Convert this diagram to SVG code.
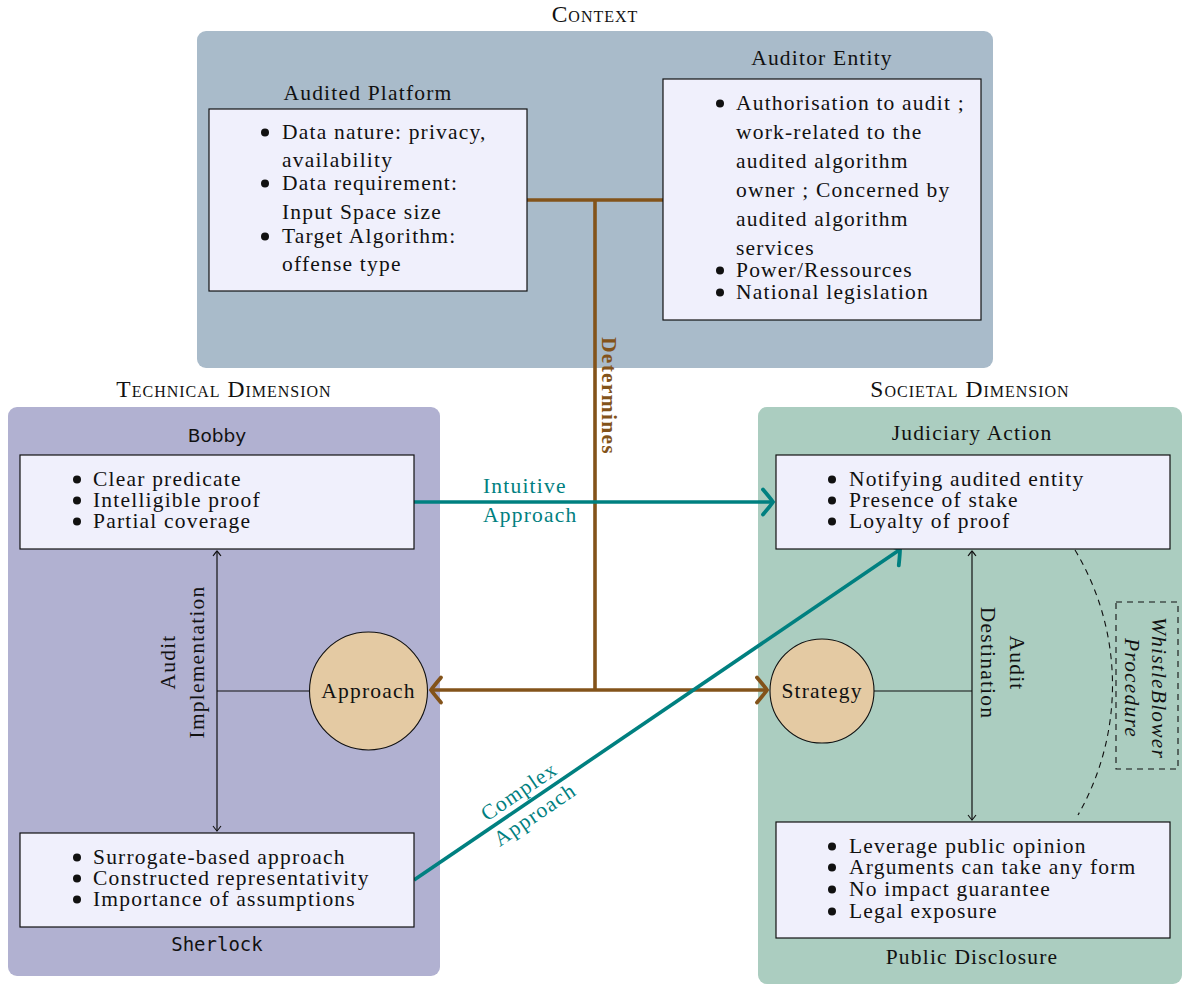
<svg xmlns="http://www.w3.org/2000/svg" width="1183" height="985" viewBox="0 0 1183 985">
<style>
  .t { font-family: "Liberation Serif", serif; font-size: 21.5px; letter-spacing: 1.2px; fill: #111; }
  .sc { font-family: "Liberation Serif", serif; font-size: 23.5px; font-variant: small-caps; letter-spacing: 1px; fill: #111; text-anchor: middle; }
  .mid { text-anchor: middle; }
  .dot { fill: #111; }
  .box { fill: #f0f0fc; stroke: #111; stroke-width: 1.2; }
  .node { fill: #e4caa3; stroke: #111; stroke-width: 1.1; }
  .thin { stroke: #111; stroke-width: 1.2; fill: none; }
  .brown { stroke: #83531a; stroke-width: 3.6; fill: none; }
  .teal { stroke: #008080; stroke-width: 3.6; fill: none; }
  .dash { stroke: #111; stroke-width: 1.1; fill: none; stroke-dasharray: 6 5; }
  .tealtxt { fill: #008080; }
</style>
<defs>
  <marker id="barbBrown" markerUnits="userSpaceOnUse" viewBox="-16 -16 32 32" markerWidth="32" markerHeight="32" refX="0" refY="0" orient="auto-start-reverse">
    <path d="M -10,-12.5 Q -2,-3 0,0 Q -2,3 -10,12.5" fill="none" stroke="#83531a" stroke-width="3.8" stroke-linecap="round"/>
  </marker>
  <marker id="barbTeal" markerUnits="userSpaceOnUse" viewBox="-16 -16 32 32" markerWidth="32" markerHeight="32" refX="0" refY="0" orient="auto-start-reverse">
    <path d="M -10,-12.5 Q -2,-3 0,0 Q -2,3 -10,12.5" fill="none" stroke="#008080" stroke-width="3.8" stroke-linecap="round"/>
  </marker>
  <marker id="tip" markerUnits="userSpaceOnUse" viewBox="-8 -8 16 16" markerWidth="16" markerHeight="16" refX="0" refY="0" orient="auto-start-reverse">
    <path d="M -5,-4 Q -1,-1 0,0 Q -1,1 -5,4" fill="none" stroke="#111" stroke-width="1.1"/>
  </marker>
</defs>

<rect width="1183" height="985" fill="#ffffff"/>

<!-- Context container -->
<g id="context">
  <rect x="197" y="31" width="796" height="337" rx="9" fill="#a9bbca"/>
  <text class="sc" x="595" y="22">Context</text>
</g>

<!-- Technical container -->
<g id="technical-dimension">
  <rect x="8" y="407" width="432" height="569" rx="9" fill="#b1b1d1"/>
  <text class="sc" x="224" y="397">Technical Dimension</text>
</g>

<!-- Societal container -->
<g id="societal-dimension">
  <rect x="758" y="407" width="424" height="577" rx="9" fill="#abcdc0"/>
  <text class="sc" x="970" y="397">Societal Dimension</text>
</g>

<!-- Connectors -->
<g id="connectors">
  <path class="brown" d="M 527,200 H 663"/>
  <path class="brown" d="M 595,200 V 690"/>
  <path class="brown" d="M 595,690 H 431" marker-end="url(#barbBrown)"/>
  <path class="brown" d="M 595,690 H 767" marker-end="url(#barbBrown)"/>
  <text transform="translate(602,396) rotate(90)" class="mid" font-family="Liberation Serif, serif" font-size="21.5" font-weight="bold" letter-spacing="1.3" fill="#83531a">Determines</text>

  <path class="teal" d="M 414,502 H 773" marker-end="url(#barbTeal)"/>
  <text class="t tealtxt" x="483" y="493">Intuitive</text>
  <text class="t tealtxt" x="483" y="522">Approach</text>

  <path class="teal" d="M 414,880 L 900,549.5" marker-end="url(#barbTeal)"/>
  <g transform="translate(527,803) rotate(-34.2)">
    <text class="t tealtxt mid" x="0" y="-7">Complex</text>
    <text class="t tealtxt mid" x="0" y="21">Approach</text>
  </g>

  <path class="thin" d="M 217,551 V 831" marker-start="url(#tip)" marker-end="url(#tip)"/>
  <path class="thin" d="M 217,691 H 310"/>
  <text transform="translate(175,662) rotate(-90)" class="t mid">Audit</text>
  <text transform="translate(204,662) rotate(-90)" class="t mid">Implementation</text>

  <path class="thin" d="M 972,551 V 820" marker-start="url(#tip)" marker-end="url(#tip)"/>
  <path class="thin" d="M 874,691 H 972"/>
  <text transform="translate(1010,663) rotate(90)" class="t mid">Audit</text>
  <text transform="translate(981,663) rotate(90)" class="t mid">Destination</text>

  <path class="dash" d="M 1075,550 A 262 262 0 0 1 1078,815"/>
</g>

<!-- Audited Platform -->
<g id="audited-platform">
  <text class="t mid" x="368" y="100">Audited Platform</text>
  <rect class="box" x="209" y="109" width="318" height="182"/>
  <circle class="dot" cx="265" cy="132.5" r="4"/>
  <text class="t" x="282" y="139">Data nature: privacy,</text>
  <text class="t" x="282" y="167">availability</text>
  <circle class="dot" cx="265" cy="183.5" r="4"/>
  <text class="t" x="282" y="190">Data requirement:</text>
  <text class="t" x="282" y="219">Input Space size</text>
  <circle class="dot" cx="265" cy="236.5" r="4"/>
  <text class="t" x="282" y="243">Target Algorithm:</text>
  <text class="t" x="282" y="271">offense type</text>
</g>

<!-- Auditor Entity -->
<g id="auditor-entity">
  <text class="t mid" x="822" y="65">Auditor Entity</text>
  <rect class="box" x="663" y="79" width="318" height="241"/>
  <circle class="dot" cx="720" cy="103.5" r="4"/>
  <text class="t" x="736" y="110">Authorisation to audit ;</text>
  <text class="t" x="736" y="139">work-related to the</text>
  <text class="t" x="736" y="168">audited algorithm</text>
  <text class="t" x="736" y="197">owner ; Concerned by</text>
  <text class="t" x="736" y="226">audited algorithm</text>
  <text class="t" x="736" y="255">services</text>
  <circle class="dot" cx="720" cy="270.5" r="4"/>
  <text class="t" x="736" y="277">Power/Ressources</text>
  <circle class="dot" cx="720" cy="292.5" r="4"/>
  <text class="t" x="736" y="299">National legislation</text>
</g>

<!-- Bobby -->
<g id="bobby">
  <text x="217" y="442" text-anchor="middle" font-family="DejaVu Sans, sans-serif" font-size="18.5" fill="#111">Bobby</text>
  <rect class="box" x="20" y="455" width="394" height="94"/>
  <circle class="dot" cx="77" cy="479.5" r="4"/>
  <text class="t" x="93" y="486">Clear predicate</text>
  <circle class="dot" cx="77" cy="500.5" r="4"/>
  <text class="t" x="93" y="507">Intelligible proof</text>
  <circle class="dot" cx="77" cy="521.5" r="4"/>
  <text class="t" x="93" y="528">Partial coverage</text>
</g>

<!-- Sherlock -->
<g id="sherlock">
  <rect class="box" x="20" y="833" width="394" height="94"/>
  <circle class="dot" cx="77" cy="857.5" r="4"/>
  <text class="t" x="93" y="864">Surrogate-based approach</text>
  <circle class="dot" cx="77" cy="878.5" r="4"/>
  <text class="t" x="93" y="885">Constructed representativity</text>
  <circle class="dot" cx="77" cy="899.5" r="4"/>
  <text class="t" x="93" y="906">Importance of assumptions</text>
  <text x="217" y="951" text-anchor="middle" font-family="DejaVu Sans Mono, monospace" font-size="19" fill="#111">Sherlock</text>
</g>

<!-- Approach -->
<g id="approach">
  <circle class="node" cx="368.5" cy="691" r="59"/>
  <text class="t mid" x="368.5" y="698">Approach</text>
</g>

<!-- Judiciary Action -->
<g id="judiciary-action">
  <text class="t mid" x="972" y="440">Judiciary Action</text>
  <rect class="box" x="776" y="455" width="394" height="94"/>
  <circle class="dot" cx="832" cy="479.5" r="4"/>
  <text class="t" x="849" y="486">Notifying audited entity</text>
  <circle class="dot" cx="832" cy="500.5" r="4"/>
  <text class="t" x="849" y="507">Presence of stake</text>
  <circle class="dot" cx="832" cy="521.5" r="4"/>
  <text class="t" x="849" y="528">Loyalty of proof</text>
</g>

<!-- Public Disclosure -->
<g id="public-disclosure">
  <rect class="box" x="776" y="822" width="394" height="116"/>
  <circle class="dot" cx="832" cy="846.5" r="4"/>
  <text class="t" x="849" y="853">Leverage public opinion</text>
  <circle class="dot" cx="832" cy="867.5" r="4"/>
  <text class="t" x="849" y="874">Arguments can take any form</text>
  <circle class="dot" cx="832" cy="889.5" r="4"/>
  <text class="t" x="849" y="896">No impact guarantee</text>
  <circle class="dot" cx="832" cy="911.5" r="4"/>
  <text class="t" x="849" y="918">Legal exposure</text>
  <text class="t mid" x="972" y="964">Public Disclosure</text>
</g>

<!-- Strategy -->
<g id="strategy">
  <circle class="node" cx="822" cy="691" r="52"/>
  <text class="t mid" x="822" y="698">Strategy</text>
</g>

<!-- WhistleBlower Procedure -->
<g id="whistleblower-procedure">
  <rect class="dash" x="1116" y="602" width="62" height="167"/>
  <text transform="translate(1152,688) rotate(90)" class="t mid" font-style="italic">WhistleBlower</text>
  <text transform="translate(1125,688) rotate(90)" class="t mid" font-style="italic">Procedure</text>
</g>
</svg>
